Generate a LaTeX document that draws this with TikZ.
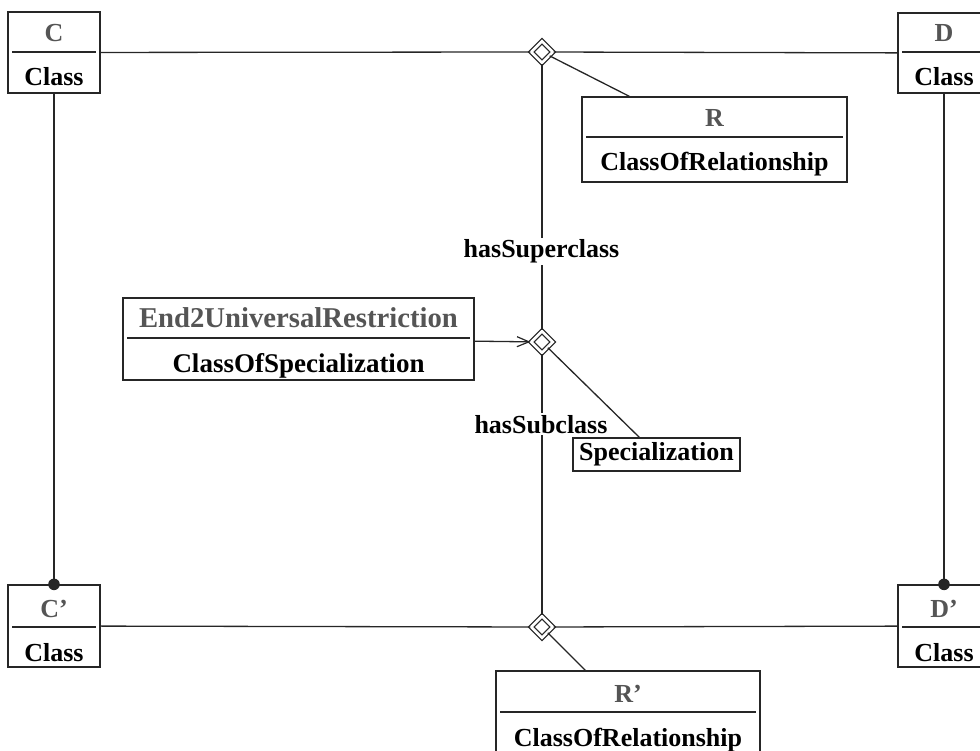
\documentclass[tikz,border=0pt]{standalone}
\usepackage{fontspec}
\setmainfont{Liberation Serif}
\usetikzlibrary{shapes.geometric,arrows.meta}
\definecolor{ink}{HTML}{262626}
\definecolor{titlegray}{HTML}{555555}

% a UML class box: name, left, top, right, bottom, divider y, title, metaclass
\newcommand\umlclass[8]{%
  \node[classbox, minimum width={#4-#2}, minimum height={#5-#3}] (#1) at ({(#2+#4)/2},{(#3+#5)/2}) {};
  \draw[divider] ({#2+4},#6) -- ({#4-4},#6);
  \node[titletext] (#1-title) at ({(#2+#4)/2},{#6-10}) {#7};
  \node[kindtext] (#1-kind) at ({(#2+#4)/2},{#6+34}) {#8};
}

\begin{document}
\begin{tikzpicture}[x=1pt,y=-1pt,
  bigfont/.style={font=\fontsize{26}{30}\selectfont\bfseries},
  classbox/.style={draw=ink, line width=1.3pt, inner sep=0pt, fill=white},
  divider/.style={draw=ink, line width=1.3pt},
  titletext/.style={bigfont, anchor=base, inner sep=0pt, text=titlegray},
  kindtext/.style={bigfont, anchor=base, inner sep=0pt, text=black},
  rolelabel/.style={bigfont, anchor=base, inner sep=1.5pt, fill=white, text=black},
  dmd/.style={diamond, draw=ink, line width=1.2pt, double, double distance=2.8pt,
    minimum width=22, minimum height=22, inner sep=0pt, fill=white},
  link/.style={draw=ink, line width=1.3pt},
  dot/.style={fill=ink}
]
\useasboundingbox (0,0) rectangle (980,751);
\clip (0,0) rectangle (980,751);

% classes
\umlclass{c}{8}{12}{100}{93}{52}{C}{Class}
\umlclass{d}{898}{13}{990}{93}{52}{D}{Class}
\umlclass{cp}{8}{585}{100}{667}{627}{C'}{Class}
\umlclass{dp}{898}{585}{990}{667}{627}{D'}{Class}
\umlclass{rel}{582}{97}{847}{182}{137}{R}{ClassOfRelationship}
\umlclass{relp}{496}{671}{760}{756}{712}{R'}{ClassOfRelationship}
\umlclass{restr}{123}{298}{474}{380}{338}%
  {\fontsize{28.7}{32}\selectfont End2UniversalRestriction}%
  {\fontsize{27}{30}\selectfont ClassOfSpecialization}

\node[draw=ink, line width=1.3pt, minimum width=167, minimum height=33, inner sep=0pt,
  bigfont] (spec) at (656.5,454.5) {Specialization};

% association diamonds
\node[dmd] (top) at (542,52) {};
\node[dmd] (mid) at (542,342) {};
\node[dmd] (bot) at (542,627) {};

% connectors
\draw[link] (c) -- (top);
\draw[link] (top) -- (d);
\draw[link] (cp) -- (bot);
\draw[link] (bot) -- (dp);
\draw[link] (top) -- (mid);
\draw[link] (mid) -- (bot);
\draw[link] (top) -- ([xshift=48pt]rel.north west);
\draw[link] (mid) -- ([xshift=67pt]spec.north west);
\draw[link] (bot) -- ([xshift=90pt]relp.north west);
\draw[link, -{Straight Barb[length=12pt, width=10pt, line width=1.2pt]}] (restr) -- (mid);
\draw[link] (c) -- (cp);
\draw[link] (d) -- (dp);
\fill[dot] (cp.north) circle (5.8);
\fill[dot] (dp.north) circle (5.8);

% role names
\node[rolelabel] (sup) at (541.5,258) {hasSuperclass};
\node[rolelabel] (sub) at (541,433) {hasSubclass};
\end{tikzpicture}
\end{document}
